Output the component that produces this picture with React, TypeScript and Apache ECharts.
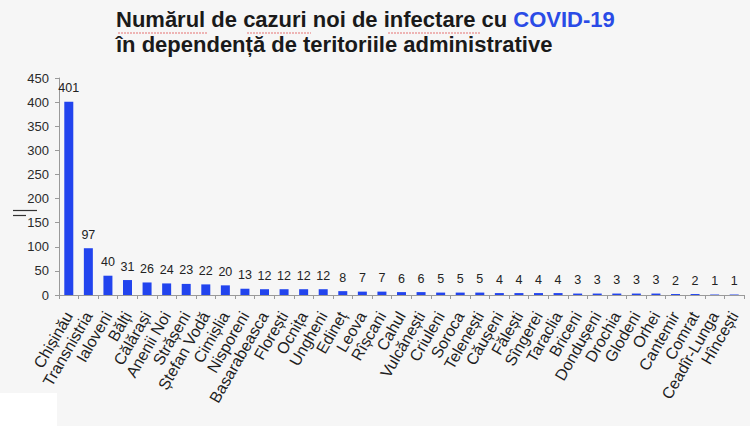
import React, { useEffect, useRef } from "react";
import * as echarts from "echarts";

const categories = [
  "Chișinău", "Transnistria", "Ialoveni", "Bălți", "Călărași", "Anenii Noi", "Strășeni",
  "Ștefan Vodă", "Cimișlia", "Nisporeni", "Basarabeasca", "Florești", "Ocnița", "Ungheni",
  "Edineț", "Leova", "Rîșcani", "Cahul", "Vulcănești", "Criuleni", "Soroca", "Telenești",
  "Căușeni", "Fălești", "Sîngerei", "Taraclia", "Briceni", "Dondușeni", "Drochia", "Glodeni",
  "Orhei", "Cantemir", "Comrat", "Ceadîr-Lunga", "Hîncești",
];
const cases = [
  401, 97, 40, 31, 26, 24, 23, 22, 20, 13, 12, 12, 12, 12, 8, 7, 7, 6, 6, 5, 5, 5,
  4, 4, 4, 4, 3, 3, 3, 3, 3, 2, 2, 1, 1,
];
const yTicks = [0, 50, 100, 150, 200, 250, 300, 350, 400, 450];
const titleLine1 = "Numărul de cazuri noi de infectare cu ";
const titleHighlight = "COVID-19";
const titleLine2 = "în dependență de teritoriile administrative";

export default function App() {
  const ref = useRef<HTMLDivElement>(null);
  useEffect(() => {
    if (!ref.current) return;
    const chart = echarts.init(ref.current, null, { renderer: "svg" });
    const font = "Arial, 'Liberation Sans', Helvetica, sans-serif";
    chart.setOption({
      animation: false,
      backgroundColor: "#f6f6f6",
      textStyle: { fontFamily: font },
      title: {
        left: 116,
        top: 7,
        padding: 0,
        text: `{a|${titleLine1}}{b|${titleHighlight}}\n{a|${titleLine2}}`,
        textStyle: {
          rich: {
            a: { fontSize: 22, fontWeight: "bold", color: "#1a1a1a", fontFamily: font, lineHeight: 25 },
            b: { fontSize: 22, fontWeight: "bold", color: "#2a4be6", fontFamily: font, lineHeight: 25 },
          },
        },
      },
      grid: { left: 59, right: 6, top: 78, bottom: 131, containLabel: false },
      xAxis: {
        type: "category",
        data: categories,
        axisLine: { lineStyle: { color: "#9a9a9a" } },
        axisTick: { show: true, length: 4, lineStyle: { color: "#9a9a9a" } },
        axisLabel: {
          interval: 0,
          rotate: 60,
          fontSize: 16,
          color: "#1e1e1e",
          margin: 18,
          fontFamily: font,
        },
      },
      yAxis: {
        type: "value",
        min: 0,
        max: 450,
        interval: 50,
        axisLine: { show: true, lineStyle: { color: "#9a9a9a" } },
        axisTick: { show: true, length: 4, lineStyle: { color: "#9a9a9a" } },
        splitLine: { show: false },
        axisLabel: {
          fontSize: 13,
          color: "#2a2a2a",
          margin: 10,
          fontFamily: font,
          customValues: yTicks,
        },
      },
      series: [
        {
          type: "bar",
          data: cases,
          barWidth: 9,
          itemStyle: { color: "#2244ee" },
          label: {
            show: true,
            position: "top",
            fontSize: 12.5,
            color: "#222",
            distance: 7,
            fontFamily: font,
          },
        },
      ],
      graphic: [
        { type: "rect", shape: { x: 0, y: 393, width: 57, height: 33 }, style: { fill: "#ffffff" } },
        { type: "line", shape: { x1: 13, y1: 210.5, x2: 37, y2: 210.5 }, style: { stroke: "#333", lineWidth: 1.2 } },
        { type: "line", shape: { x1: 13, y1: 215.5, x2: 26, y2: 215.5 }, style: { stroke: "#333", lineWidth: 1.2 } },
        { type: "line", shape: { x1: 118, y1: 33, x2: 207, y2: 33 }, style: { stroke: "#e57373", lineWidth: 1, lineDash: [2, 1] } },
        { type: "line", shape: { x1: 247, y1: 33, x2: 311, y2: 33 }, style: { stroke: "#e57373", lineWidth: 1, lineDash: [2, 1] } },
        { type: "line", shape: { x1: 388, y1: 33, x2: 480, y2: 33 }, style: { stroke: "#e57373", lineWidth: 1, lineDash: [2, 1] } },
      ],
    });
    return () => chart.dispose();
  }, []);
  return (
    <div
      ref={ref}
      style={{ position: "fixed", left: 0, top: 0, width: 750, height: 426 }}
    />
  );
}
